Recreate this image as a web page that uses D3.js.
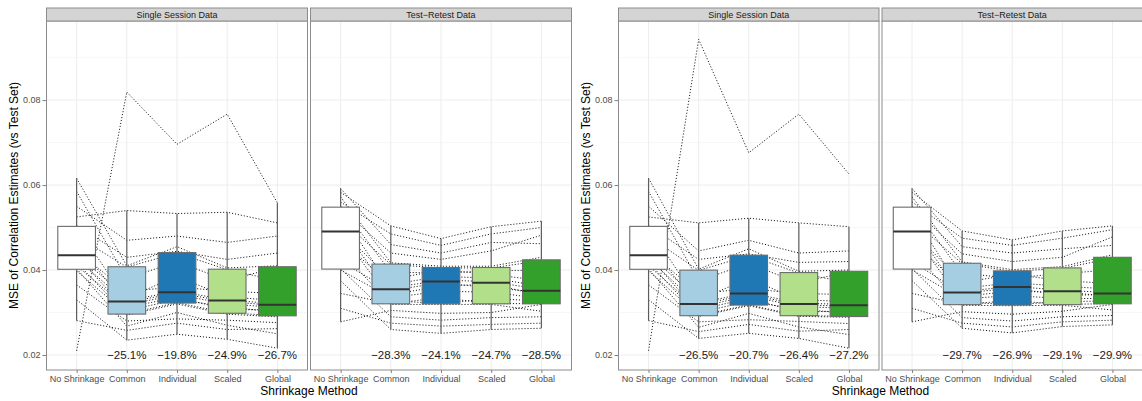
<!DOCTYPE html>
<html>
<head>
<meta charset="utf-8">
<script src="https://cdn.jsdelivr.net/npm/d3@7"></script>
<style>
  html, body { margin: 0; padding: 0; background: #fff; }
  svg { display: block; font-family: "Liberation Sans", Arial, Helvetica, sans-serif; }
</style>
</head>
<body>
<svg id="chart" width="1142" height="401"></svg>
<script>
// Shrinkage methods along the x axis, facet titles and axis ticks
const methods = ["No Shrinkage", "Common", "Individual", "Scaled", "Global"];
const facetTitles = ["Single Session Data", "Test\u2212Retest Data"];
const yTickValues = [0.02, 0.04, 0.06, 0.08];
const yMinorValues = [0.03, 0.05, 0.07, 0.09];
const boxColors = ["#ffffff", "#a6cee3", "#1f78b4", "#b2df8a", "#33a02c"];
const yTitle = "MSE of Correlation Estimates (vs Test Set)";
const xTitle = "Shrinkage Method";

// One row per subject: MSE for [No Shrinkage, Common, Individual, Scaled, Global]
const singleSessionA = [
  [0.0330, 0.0235, 0.0249, 0.0237, 0.0216],
  [0.0281, 0.0258, 0.0275, 0.0260, 0.0262],
  [0.0403, 0.0268, 0.0300, 0.0270, 0.0250],
  [0.0365, 0.0280, 0.0285, 0.0282, 0.0276],
  [0.0418, 0.0294, 0.0320, 0.0296, 0.0290],
  [0.0398, 0.0297, 0.0323, 0.0299, 0.0293],
  [0.0433, 0.0305, 0.0330, 0.0314, 0.0300],
  [0.0410, 0.0312, 0.0336, 0.0307, 0.0306],
  [0.0462, 0.0318, 0.0342, 0.0320, 0.0312],
  [0.0427, 0.0324, 0.0346, 0.0326, 0.0316],
  [0.0502, 0.0328, 0.0350, 0.0330, 0.0320],
  [0.0437, 0.0335, 0.0385, 0.0337, 0.0328],
  [0.0445, 0.0350, 0.0360, 0.0350, 0.0345],
  [0.0585, 0.0380, 0.0420, 0.0375, 0.0407],
  [0.0480, 0.0407, 0.0440, 0.0401, 0.0375],
  [0.0616, 0.0410, 0.0455, 0.0405, 0.0410],
  [0.0505, 0.0430, 0.0444, 0.0425, 0.0440],
  [0.0550, 0.0470, 0.0480, 0.0465, 0.0480],
  [0.0525, 0.0540, 0.0533, 0.0536, 0.0511],
  [0.0210, 0.0819, 0.0696, 0.0767, 0.0558]
];
const testRetestA = [
  [0.0375, 0.0260, 0.0251, 0.0260, 0.0263],
  [0.0310, 0.0275, 0.0268, 0.0272, 0.0275],
  [0.0403, 0.0290, 0.0282, 0.0288, 0.0290],
  [0.0278, 0.0305, 0.0298, 0.0300, 0.0319],
  [0.0445, 0.0319, 0.0319, 0.0319, 0.0303],
  [0.0345, 0.0321, 0.0335, 0.0321, 0.0321],
  [0.0488, 0.0328, 0.0321, 0.0333, 0.0327],
  [0.0400, 0.0335, 0.0350, 0.0348, 0.0333],
  [0.0505, 0.0342, 0.0362, 0.0367, 0.0340],
  [0.0420, 0.0352, 0.0370, 0.0358, 0.0348],
  [0.0535, 0.0358, 0.0376, 0.0373, 0.0354],
  [0.0470, 0.0366, 0.0385, 0.0381, 0.0362],
  [0.0494, 0.0378, 0.0400, 0.0390, 0.0375],
  [0.0551, 0.0395, 0.0393, 0.0398, 0.0400],
  [0.0520, 0.0413, 0.0405, 0.0405, 0.0422],
  [0.0572, 0.0417, 0.0409, 0.0409, 0.0430],
  [0.0547, 0.0440, 0.0425, 0.0445, 0.0482],
  [0.0592, 0.0460, 0.0440, 0.0465, 0.0462],
  [0.0560, 0.0485, 0.0458, 0.0485, 0.0500],
  [0.0583, 0.0504, 0.0474, 0.0502, 0.0515]
];
const singleSessionB = [
  [0.0330, 0.0239, 0.0251, 0.0239, 0.0216],
  [0.0281, 0.0255, 0.0272, 0.0256, 0.0260],
  [0.0403, 0.0265, 0.0298, 0.0266, 0.0248],
  [0.0365, 0.0278, 0.0283, 0.0279, 0.0274],
  [0.0418, 0.0291, 0.0316, 0.0291, 0.0289],
  [0.0398, 0.0293, 0.0318, 0.0293, 0.0291],
  [0.0433, 0.0300, 0.0326, 0.0308, 0.0298],
  [0.0410, 0.0307, 0.0333, 0.0301, 0.0304],
  [0.0462, 0.0313, 0.0339, 0.0314, 0.0310],
  [0.0427, 0.0318, 0.0343, 0.0318, 0.0315],
  [0.0502, 0.0322, 0.0347, 0.0322, 0.0319],
  [0.0437, 0.0330, 0.0380, 0.0330, 0.0326],
  [0.0445, 0.0345, 0.0356, 0.0345, 0.0342],
  [0.0585, 0.0375, 0.0415, 0.0370, 0.0396],
  [0.0480, 0.0399, 0.0434, 0.0393, 0.0370],
  [0.0616, 0.0402, 0.0450, 0.0397, 0.0400],
  [0.0505, 0.0425, 0.0438, 0.0418, 0.0420],
  [0.0550, 0.0445, 0.0470, 0.0440, 0.0445],
  [0.0525, 0.0511, 0.0522, 0.0511, 0.0502],
  [0.0210, 0.0943, 0.0676, 0.0767, 0.0626]
];
const testRetestB = [
  [0.0375, 0.0263, 0.0252, 0.0267, 0.0271],
  [0.0310, 0.0275, 0.0266, 0.0278, 0.0282],
  [0.0403, 0.0288, 0.0280, 0.0290, 0.0293],
  [0.0278, 0.0302, 0.0296, 0.0303, 0.0319],
  [0.0445, 0.0317, 0.0316, 0.0317, 0.0306],
  [0.0345, 0.0319, 0.0328, 0.0319, 0.0321],
  [0.0488, 0.0325, 0.0318, 0.0326, 0.0327],
  [0.0400, 0.0332, 0.0340, 0.0333, 0.0333],
  [0.0505, 0.0338, 0.0350, 0.0348, 0.0338],
  [0.0420, 0.0345, 0.0358, 0.0340, 0.0343],
  [0.0535, 0.0349, 0.0362, 0.0352, 0.0347],
  [0.0470, 0.0357, 0.0370, 0.0362, 0.0355],
  [0.0494, 0.0370, 0.0390, 0.0375, 0.0368],
  [0.0551, 0.0392, 0.0381, 0.0392, 0.0400],
  [0.0520, 0.0415, 0.0397, 0.0404, 0.0428],
  [0.0572, 0.0419, 0.0401, 0.0408, 0.0436],
  [0.0547, 0.0438, 0.0420, 0.0430, 0.0478],
  [0.0592, 0.0455, 0.0440, 0.0450, 0.0458],
  [0.0560, 0.0475, 0.0458, 0.0475, 0.0495],
  [0.0583, 0.0492, 0.0471, 0.0492, 0.0504]
];

// Mean change relative to no shrinkage, one label per shrinkage method
const pctSingleA = ["\u221225.1%", "\u221219.8%", "\u221224.9%", "\u221226.7%"];
const pctRetestA = ["\u221228.3%", "\u221224.1%", "\u221224.7%", "\u221228.5%"];
const pctSingleB = ["\u221226.5%", "\u221220.7%", "\u221226.4%", "\u221227.2%"];
const pctRetestB = ["\u221229.7%", "\u221226.9%", "\u221229.1%", "\u221229.9%"];

// Layout of the two side-by-side figures, each with two facets
const figures = [
  { axisX: 46.5, titleX: 14, panels: [
      { data: singleSessionA, pct: pctSingleA, left: 46.5, width: 261 },
      { data: testRetestA,    pct: pctRetestA, left: 310.5, width: 261 } ] },
  { axisX: 618.5, titleX: 586, panels: [
      { data: singleSessionB, pct: pctSingleB, left: 618.5, width: 260.5 },
      { data: testRetestB,    pct: pctRetestB, left: 882, width: 260.5 } ] }
];

const stripTop = 8, stripH = 13;
const panelTop = stripTop + stripH, panelBottom = 370;

const svg = d3.select("#chart");
const y = d3.scaleLinear().domain([0.01647, 0.09862]).range([panelBottom, panelTop]);

// Tukey box statistics (R type-7 quantiles, 1.5 IQR whiskers)
function boxStats(values) {
  const v = values.slice().sort(d3.ascending);
  const q1 = d3.quantile(v, 0.25), med = d3.quantile(v, 0.5), q3 = d3.quantile(v, 0.75);
  const iqr = q3 - q1;
  const lo = d3.min(v.filter(d => d >= q1 - 1.5 * iqr));
  const hi = d3.max(v.filter(d => d <= q3 + 1.5 * iqr));
  return { q1, med, q3, lo, hi };
}

figures.forEach((fig, fi) => {
  const g = svg.append("g");

  // y axis
  const yAxis = d3.axisLeft(y).tickValues(yTickValues).tickFormat(d3.format(".2f")).tickSize(4).tickPadding(2);
  const ya = g.append("g").attr("transform", `translate(${fig.axisX},0)`).call(yAxis);
  ya.select(".domain").remove();
  ya.selectAll(".tick line").attr("stroke", "#7f7f7f");
  ya.selectAll(".tick text").attr("fill", "#4d4d4d").style("font-size", "9px")
    .style("font-family", "Liberation Sans, Arial, sans-serif");

  // y title
  const yMid = (panelTop + panelBottom) / 2;
  g.append("text")
    .attr("transform", `translate(${fig.titleX},${yMid}) rotate(-90)`)
    .attr("text-anchor", "middle").attr("dy", "0.35em")
    .style("font-size", "12px").attr("fill", "#000")
    .text(yTitle);

  fig.panels.forEach((p, pi) => {
    const x = d3.scalePoint().domain(methods).range([p.left, p.left + p.width]).padding(0.6);
    const step = x.step();
    const boxW = step * 0.75;
    const pg = g.append("g");

    pg.append("rect").attr("x", p.left).attr("y", panelTop)
      .attr("width", p.width).attr("height", panelBottom - panelTop).attr("fill", "#fff");

    // grid lines
    pg.selectAll(".minor").data(yMinorValues).join("line")
      .attr("x1", p.left).attr("x2", p.left + p.width)
      .attr("y1", d => y(d)).attr("y2", d => y(d))
      .attr("stroke", "#f5f5f5").attr("stroke-width", 0.8);
    pg.selectAll(".major").data(yTickValues).join("line")
      .attr("x1", p.left).attr("x2", p.left + p.width)
      .attr("y1", d => y(d)).attr("y2", d => y(d))
      .attr("stroke", "#ebebeb").attr("stroke-width", 0.9);
    pg.selectAll(".vgrid").data(methods).join("line")
      .attr("x1", d => x(d)).attr("x2", d => x(d))
      .attr("y1", panelTop).attr("y2", panelBottom)
      .attr("stroke", "#ebebeb").attr("stroke-width", 0.9);

    // one dotted line per subject across the shrinkage methods
    const line = d3.line().x((d, i) => x(methods[i])).y(d => y(d));
    pg.selectAll(".subject").data(p.data).join("path")
      .attr("d", line).attr("fill", "none")
      .attr("stroke", "#1a1a1a").attr("stroke-width", 1)
      .attr("stroke-dasharray", "1.1,1.9");

    // boxplots
    methods.forEach((m, mi) => {
      const s = boxStats(p.data.map(r => r[mi]));
      const cx = x(m);
      pg.append("line").attr("x1", cx).attr("x2", cx).attr("y1", y(s.hi)).attr("y2", y(s.q3))
        .attr("stroke", "#5e5e5e").attr("stroke-width", 1.2);
      pg.append("line").attr("x1", cx).attr("x2", cx).attr("y1", y(s.q1)).attr("y2", y(s.lo))
        .attr("stroke", "#5e5e5e").attr("stroke-width", 1.2);
      pg.append("rect").attr("x", cx - boxW / 2).attr("y", y(s.q3))
        .attr("width", boxW).attr("height", y(s.q1) - y(s.q3))
        .attr("fill", boxColors[mi]).attr("stroke", "#6b6b6b").attr("stroke-width", 1.1);
      pg.append("line").attr("x1", cx - boxW / 2).attr("x2", cx + boxW / 2)
        .attr("y1", y(s.med)).attr("y2", y(s.med))
        .attr("stroke", "#333").attr("stroke-width", 2);
    });

    // percent change labels
    pg.selectAll(".pct").data(p.pct).join("text")
      .attr("x", (d, i) => x(methods[i + 1])).attr("y", y(0.02))
      .attr("dy", "0.36em").attr("text-anchor", "middle")
      .style("font-size", "11.5px").attr("fill", "#1a1a1a")
      .text(d => d);

    // panel border
    pg.append("rect").attr("x", p.left).attr("y", panelTop)
      .attr("width", p.width).attr("height", panelBottom - panelTop)
      .attr("fill", "none").attr("stroke", "#8c8c8c").attr("stroke-width", 1);

    // strip
    pg.append("rect").attr("x", p.left).attr("y", stripTop)
      .attr("width", p.width).attr("height", stripH)
      .attr("fill", "#d4d4d4").attr("stroke", "#8c8c8c").attr("stroke-width", 1);
    pg.append("text").attr("x", p.left + p.width / 2).attr("y", stripTop + stripH / 2)
      .attr("dy", "0.35em").attr("text-anchor", "middle")
      .style("font-size", "9px").attr("fill", "#1a1a1a")
      .text(facetTitles[pi]);

    // x axis
    const xAxis = d3.axisBottom(x).tickSize(3).tickPadding(3);
    const xa = pg.append("g").attr("transform", `translate(0,${panelBottom})`).call(xAxis);
    xa.select(".domain").remove();
    xa.selectAll(".tick line").attr("stroke", "#7f7f7f");
    xa.selectAll(".tick text").attr("fill", "#4d4d4d").style("font-size", "9px")
      .style("font-family", "Liberation Sans, Arial, sans-serif");
  });

  // x title centred under both facets
  const first = fig.panels[0], last = fig.panels[fig.panels.length - 1];
  g.append("text")
    .attr("x", (first.left + last.left + last.width) / 2).attr("y", 395)
    .attr("text-anchor", "middle").style("font-size", "12px").attr("fill", "#000")
    .text(xTitle);
});
</script>
</body>
</html>
